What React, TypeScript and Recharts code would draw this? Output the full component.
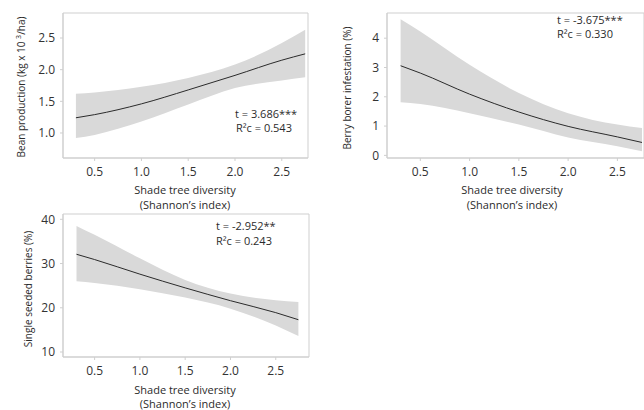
// @ts-nocheck
import React from 'react';
import { ComposedChart, Area, Line, XAxis, YAxis, ReferenceArea } from 'recharts';

const FONT = '"Open Sans", "Noto Sans", sans-serif';
const BAND = '#d9d9d9';
const FRAME = '#cfcfcf';
const INK = '#2b2b2b';

// shade tree diversity (Shannon's index) at which the fits were read
const DIVERSITY = [0.3, 0.5, 1.0, 1.5, 2.0, 2.5, 2.75];
const X_TICKS = [0.5, 1.0, 1.5, 2.0, 2.5];

// bean production (kg x 10^3/ha)
const BEAN_FIT = [1.24, 1.29, 1.46, 1.68, 1.91, 2.15, 2.25];
const BEAN_LO = [0.92, 0.97, 1.18, 1.45, 1.71, 1.83, 1.88];
const BEAN_HI = [1.62, 1.64, 1.73, 1.87, 2.08, 2.42, 2.63];
const BEAN_TICKS = [1.0, 1.5, 2.0, 2.5];

// berry borer infestation (%)
const BORER_FIT = [3.06, 2.81, 2.09, 1.48, 0.99, 0.63, 0.44];
const BORER_LO = [1.81, 1.75, 1.44, 1.05, 0.61, 0.31, 0.14];
const BORER_HI = [4.65, 4.23, 3.09, 2.13, 1.44, 1.05, 0.93];
const BORER_TICKS = [0, 1, 2, 3, 4];

// single seeded berries (%)
const SEED_FIT = [32.1, 30.9, 27.6, 24.5, 21.6, 18.9, 17.3];
const SEED_LO = [26.0, 25.6, 24.2, 22.3, 19.8, 16.0, 13.6];
const SEED_HI = [38.5, 36.5, 31.2, 26.3, 23.2, 21.7, 21.3];
const SEED_TICKS = [10, 20, 30, 40];

const rows = (fit, lo, hi) => DIVERSITY.map((x, i) => ({ x, fit: fit[i], band: [lo[i], hi[i]] }));

function Txt({ x, y, children, center, size = 11 }) {
  return (
    <div
      style={{
        position: 'absolute',
        left: x,
        top: y - 7,
        lineHeight: '14px',
        fontSize: size,
        color: INK,
        whiteSpace: 'nowrap',
        transform: center ? 'translateX(-50%)' : undefined,
      }}
    >
      {children}
    </div>
  );
}

function VTxt({ x, y, children }) {
  return (
    <div
      style={{
        position: 'absolute',
        left: x,
        top: y,
        lineHeight: '13px',
        fontSize: 10,
        color: INK,
        whiteSpace: 'nowrap',
        transform: 'translate(-50%, -50%) rotate(-90deg)',
      }}
    >
      {children}
    </div>
  );
}

function Panel({ left, top, width, height, margin, data, xDomain, yDomain, yTicks, yFmt }) {
  const tick = { fontSize: 12, fill: '#333', fontFamily: FONT };
  return (
    <div style={{ position: 'absolute', left, top }}>
      <ComposedChart width={width} height={height} data={data} margin={margin}>
        <XAxis
          type="number"
          dataKey="x"
          domain={xDomain}
          ticks={X_TICKS}
          allowDataOverflow
          tickFormatter={(v) => v.toFixed(1)}
          tick={tick}
          tickSize={3}
          tickMargin={6}
          height={22}
          stroke={FRAME}
        />
        <YAxis
          type="number"
          domain={yDomain}
          ticks={yTicks}
          allowDataOverflow
          tickFormatter={yFmt}
          tick={tick}
          tickSize={3}
          tickMargin={5}
          width={30}
          stroke={FRAME}
        />
        <ReferenceArea
          x1={xDomain[0]}
          x2={xDomain[1]}
          y1={yDomain[0]}
          y2={yDomain[1]}
          fill="none"
          stroke={FRAME}
          ifOverflow="visible"
        />
        <Area type="monotone" dataKey="band" fill={BAND} fillOpacity={1} stroke="none" isAnimationActive={false} />
        <Line type="monotone" dataKey="fit" stroke={INK} strokeWidth={1} dot={false} isAnimationActive={false} />
      </ComposedChart>
    </div>
  );
}

export default function App() {
  return (
    <div
      style={{
        position: 'absolute',
        left: 0,
        top: 0,
        width: 644,
        height: 410,
        overflow: 'hidden',
        background: '#fff',
        fontFamily: FONT,
      }}
    >
      <Panel
        left={0}
        top={0}
        width={312}
        height={180}
        margin={{ top: 13, right: 4, left: 33, bottom: 0 }}
        data={rows(BEAN_FIT, BEAN_LO, BEAN_HI)}
        xDomain={[0.162, 2.78]}
        yDomain={[0.605, 2.895]}
        yTicks={BEAN_TICKS}
        yFmt={(v) => v.toFixed(1)}
      />
      <Panel
        left={330}
        top={0}
        width={316}
        height={180}
        margin={{ top: 13, right: 2, left: 27, bottom: 0 }}
        data={rows(BORER_FIT, BORER_LO, BORER_HI)}
        xDomain={[0.162, 2.77]}
        yDomain={[-0.09, 4.86]}
        yTicks={BORER_TICKS}
        yFmt={(v) => String(v)}
      />
      <Panel
        left={0}
        top={200}
        width={310}
        height={179}
        margin={{ top: 14, right: 1, left: 33, bottom: 0 }}
        data={rows(SEED_FIT, SEED_LO, SEED_HI)}
        xDomain={[0.151, 2.867]}
        yDomain={[8.87, 41.2]}
        yTicks={SEED_TICKS}
        yFmt={(v) => String(v)}
      />

      <VTxt x={20} y={87}>
        Bean production (kg x 10 <sup style={{ fontSize: 7 }}>3</sup>/ha)
      </VTxt>
      <VTxt x={347} y={88}>Berry borer infestation (%)</VTxt>
      <VTxt x={28} y={289}>Single seeded berries (%)</VTxt>

      <Txt x={185} y={190} center>Shade tree diversity</Txt>
      <Txt x={185} y={205} center>(Shannon’s index)</Txt>
      <Txt x={512} y={190} center>Shade tree diversity</Txt>
      <Txt x={512} y={205} center>(Shannon’s index)</Txt>
      <Txt x={185} y={390} center>Shade tree diversity</Txt>
      <Txt x={185} y={404} center>(Shannon’s index)</Txt>

      <Txt x={235} y={114}>t = 3.686***</Txt>
      <Txt x={236} y={128}>R²c = 0.543</Txt>
      <Txt x={557} y={20}>t = -3.675***</Txt>
      <Txt x={557} y={34}>R²c = 0.330</Txt>
      <Txt x={216} y={226}>t = -2.952**</Txt>
      <Txt x={216} y={241}>R²c = 0.243</Txt>
    </div>
  );
}
